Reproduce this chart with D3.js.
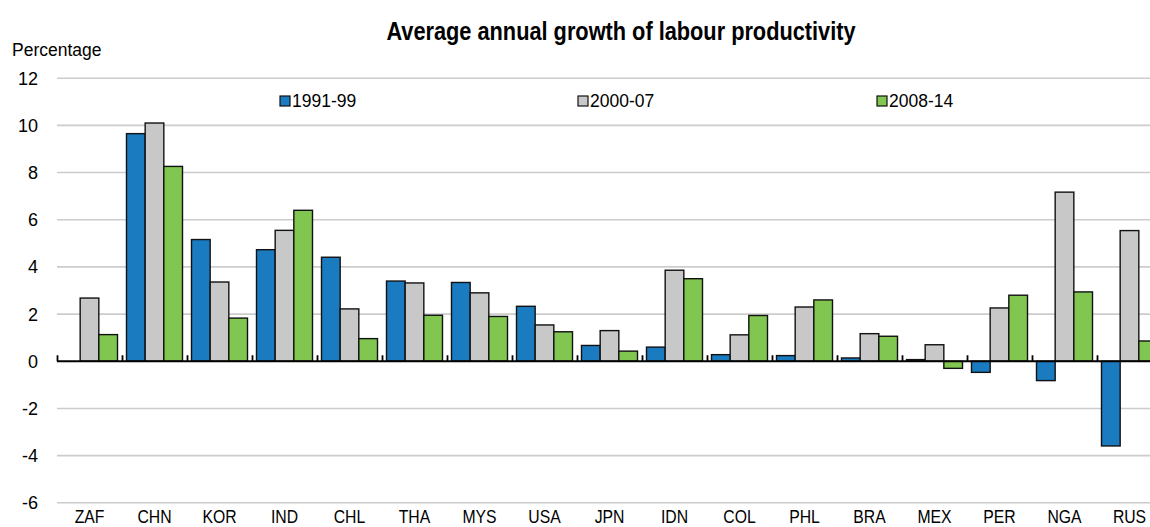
<!DOCTYPE html>
<html>
<head>
<meta charset="UTF-8">
<title>Average annual growth of labour productivity</title>
<script src="https://cdn.jsdelivr.net/npm/d3@7"></script>
<style>
  body { margin: 0; background: #fff; }
  text { font-family: "Liberation Sans", Arial, sans-serif; fill: #000; }
</style>
</head>
<body>
<script>
// data
var countries = ["ZAF", "CHN", "KOR", "IND", "CHL", "THA", "MYS", "USA", "JPN",
                 "IDN", "COL", "PHL", "BRA", "MEX", "PER", "NGA", "RUS"];
var seriesNames = ["1991-99", "2000-07", "2008-14"];
var v1991 = [null, 9.65, 5.16, 4.73, 4.41, 3.40, 3.34, 2.33, 0.67,
             0.60, 0.28, 0.24, 0.14, 0.07, -0.47, -0.82, -3.59];
var v2000 = [2.68, 10.1, 3.36, 5.55, 2.22, 3.32, 2.90, 1.54, 1.30,
             3.86, 1.12, 2.30, 1.17, 0.70, 2.26, 7.17, 5.54];
var v2008 = [1.13, 8.26, 1.83, 6.40, 0.96, 1.95, 1.90, 1.25, 0.43,
             3.50, 1.94, 2.60, 1.06, -0.30, 2.80, 2.94, 0.86];
var yTicks = [12, 10, 8, 6, 4, 2, 0, -2, -4, -6];
var colors = ["#1b7bc0", "#c8c8c8", "#80c650"];

var W = 1150, H = 527;
var left = 57, step = 65;

var svg = d3.select("body").append("svg")
    .attr("width", W)
    .attr("height", H);

var y = d3.scaleLinear().domain([-6, 12]).range([502.8, 78.2]);

var x0 = d3.scaleBand()
    .domain(countries)
    .range([left, left + step * countries.length])
    .paddingInner(9 / 65)
    .paddingOuter(4.5 / 65);

var x1 = d3.scaleBand()
    .domain(seriesNames)
    .range([0, x0.bandwidth()]);

// gridlines
svg.append("g").selectAll("line")
    .data(yTicks.filter(function(d) { return d !== 0; }))
    .enter().append("line")
    .attr("x1", left).attr("x2", W)
    .attr("y1", function(d) { return y(d); })
    .attr("y2", function(d) { return y(d); })
    .attr("stroke", "#cccccc")
    .attr("stroke-width", 1.6);

// y labels
svg.append("g").selectAll("text")
    .data(yTicks)
    .enter().append("text")
    .attr("x", 38)
    .attr("y", function(d) { return y(d); })
    .attr("dy", "0.36em")
    .attr("text-anchor", "end")
    .style("font-size", "18px")
    .text(function(d) { return d; });

svg.append("text")
    .attr("x", 12).attr("y", 56)
    .style("font-size", "17.5px")
    .text("Percentage");

// title is a condensed face in the original, squeeze it a bit
svg.append("g")
    .attr("transform", "translate(621,40) scale(0.87,1)")
  .append("text")
    .attr("text-anchor", "middle")
    .style("font-size", "25px")
    .style("font-weight", "bold")
    .text("Average annual growth of labour productivity");

// bars
var rows = countries.map(function(c, i) {
    return { country: c, values: [v1991[i], v2000[i], v2008[i]] };
});

var groups = svg.append("g").selectAll("g")
    .data(rows)
    .enter().append("g")
    .attr("transform", function(d) { return "translate(" + x0(d.country) + ",0)"; });

groups.selectAll("rect")
    .data(function(d) {
        return d.values.map(function(v, j) { return { s: seriesNames[j], v: v, j: j }; })
            .filter(function(e) { return e.v !== null; });
    })
    .enter().append("rect")
    .attr("x", function(d) { return x1(d.s); })
    .attr("width", x1.bandwidth())
    .attr("y", function(d) { return y(Math.max(0, d.v)); })
    .attr("height", function(d) { return Math.abs(y(d.v) - y(0)); })
    .attr("fill", function(d) { return colors[d.j]; })
    .attr("stroke", "#111")
    .attr("stroke-width", 1.4);

// zero line + ticks between categories
svg.append("line")
    .attr("x1", left).attr("x2", W)
    .attr("y1", y(0)).attr("y2", y(0))
    .attr("stroke", "#000")
    .attr("stroke-width", 2.2);

svg.append("g").selectAll("line")
    .data(d3.range(countries.length + 1))
    .enter().append("line")
    .attr("x1", function(i) { return left + 0.5 + i * step; })
    .attr("x2", function(i) { return left + 0.5 + i * step; })
    .attr("y1", y(0))
    .attr("y2", y(0) - 6)
    .attr("stroke", "#000")
    .attr("stroke-width", 1.8);

// category labels (condensed too), nudged up so they are not clipped
svg.append("g").selectAll("g")
    .data(countries)
    .enter().append("g")
    .attr("transform", function(d) {
        return "translate(" + (x0(d) + x0.bandwidth() / 2) + ",523) scale(0.83,1)";
    })
  .append("text")
    .attr("text-anchor", "middle")
    .style("font-size", "19px")
    .text(function(d) { return d; });

// legend
var legendX = [280, 578, 877];
var legend = svg.append("g").selectAll("g")
    .data(seriesNames)
    .enter().append("g")
    .attr("transform", function(d, i) { return "translate(" + legendX[i] + ",101)"; });

legend.append("rect")
    .attr("x", 0).attr("y", -5)
    .attr("width", 10).attr("height", 10)
    .attr("fill", function(d, i) { return colors[i]; })
    .attr("stroke", "#111")
    .attr("stroke-width", 1.2);

legend.append("text")
    .attr("x", 12).attr("y", 0)
    .attr("dy", "0.36em")
    .style("font-size", "17.5px")
    .text(function(d) { return d; });
</script>
</body>
</html>
